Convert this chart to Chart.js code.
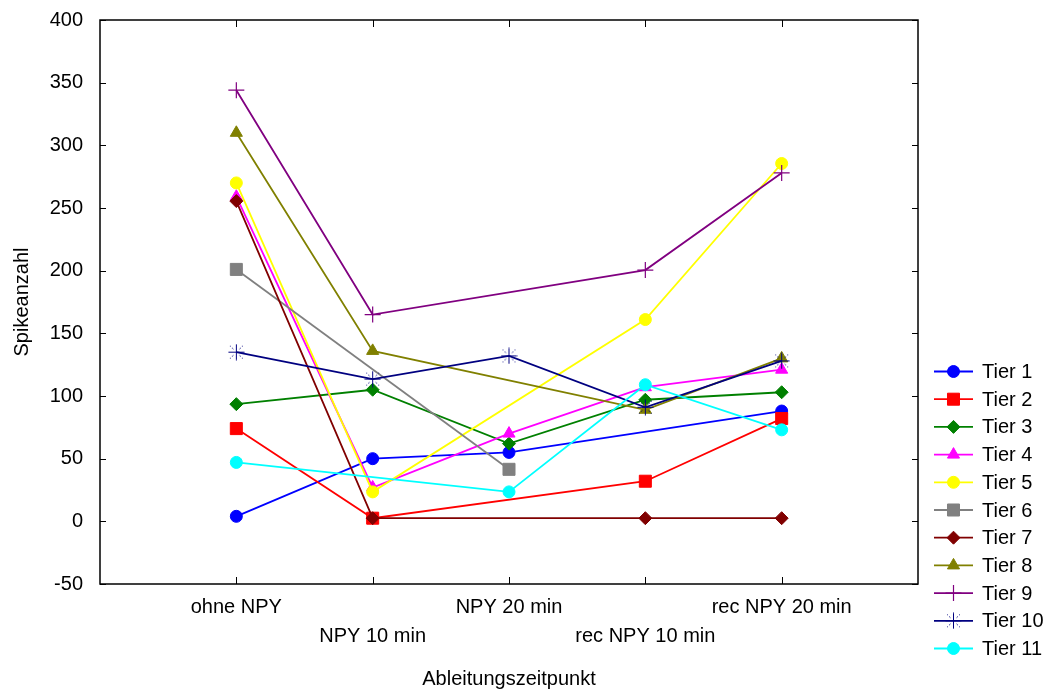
<!DOCTYPE html>
<html><head><meta charset="utf-8">
<script src="https://cdn.jsdelivr.net/npm/chart.js@4/dist/chart.umd.min.js"></script>
<style>html,body{margin:0;padding:0;background:#fff;overflow:hidden}#wrap{width:1052px;height:692px}</style>
</head><body><div id="wrap"><canvas id="c" width="1052" height="692"></canvas></div>
<script>
// ---- data ----
const categories = ['ohne NPY', 'NPY 10 min', 'NPY 20 min', 'rec NPY 10 min', 'rec NPY 20 min'];
const seriesNames = ['Tier 1','Tier 2','Tier 3','Tier 4','Tier 5','Tier 6','Tier 7','Tier 8','Tier 9','Tier 10','Tier 11'];
const tier1  = [4,     50,    55,   null,  88];
const tier2  = [74,    2.5,   null, 32,    82];
const tier3  = [93.5,  105,   62,   97,    103];
const tier4  = [259,   27,    70,   107,   121];
const tier5  = [270,   23.5,  null, 161,   285.5];
const tier6  = [201,   null,  41.5, null,  null];
const tier7  = [255.5, 2.5,   null, 2.5,   2.5];
const tier8  = [310,   136,   null, 89,    130];
const tier9  = [344,   165,   null, 200.5, 278];
const tier10 = [135,   113.5, 132,  91,    128];
const tier11 = [47,    null,  23.5, 109,   73];
const yTicks = [-50, 0, 50, 100, 150, 200, 250, 300, 350, 400];
const yTitle = 'Spikeanzahl';
const xTitle = 'Ableitungszeitpunkt';

// ---- styles ----
const allSeries = [tier1,tier2,tier3,tier4,tier5,tier6,tier7,tier8,tier9,tier10,tier11];
const colors = ['#0000FF','#FF0000','#008000','#FF00FF','#FFFF00','#808080','#800000','#808000','#800080','#000080','#00FFFF'];

function makeAsterisk(col){
  const c = document.createElement('canvas'); c.width = 17; c.height = 17;
  const g = c.getContext('2d');
  g.strokeStyle = col; g.lineWidth = 1;
  g.beginPath(); g.moveTo(8.5,0.5); g.lineTo(8.5,16.5); g.moveTo(0.5,8.5); g.lineTo(16.5,8.5); g.stroke();
  g.globalAlpha = 0.75;
  const segs = [[1,1],[1,-1],[-1,1],[-1,-1]];
  g.beginPath();
  segs.forEach(([sx,sy])=>{
    g.moveTo(8.5+sx*3, 8.5+sy*3); g.lineTo(8.5+sx*4.5, 8.5+sy*4.5);
    g.moveTo(8.5+sx*5.5, 8.5+sy*5.5); g.lineTo(8.5+sx*6.5, 8.5+sy*6.5);
  });
  g.stroke();
  return c;
}
const styles = [
  {ps:'circle', r:6}, {ps:'rect', r:8.5}, {ps:'rectRot', r:6.5}, {ps:'triangle', r:7},
  {ps:'circle', r:6}, {ps:'rect', r:8.5}, {ps:'rectRot', r:6.5}, {ps:'triangle', r:7},
  {ps:'cross', r:8, bw:1.2}, {ps:makeAsterisk('#000080'), r:8}, {ps:'circle', r:6}
];

const FONT = "'Liberation Sans', Arial, Helvetica, sans-serif";

const datasets = allSeries.map((arr,i)=>({
  label: seriesNames[i],
  data: arr.map((v,j)=>({x:j+1, y:v})),
  borderColor: colors[i],
  backgroundColor: colors[i],
  pointBackgroundColor: colors[i],
  pointBorderColor: colors[i],
  borderWidth: 1.8,
  pointBorderWidth: styles[i].bw || 1,
  pointStyle: styles[i].ps,
  pointRadius: styles[i].r,
  pointHoverRadius: styles[i].r,
  spanGaps: true,
  tension: 0,
  order: allSeries.length - i
}));

const framePlugin = {
  id: 'frame',
  beforeDatasetsDraw(chart){
    const {ctx, chartArea:a, scales} = chart;
    ctx.save();
    ctx.strokeStyle = '#000'; ctx.lineWidth = 1.5;
    ctx.strokeRect(a.left, a.top, a.right-a.left, a.bottom-a.top);
    ctx.lineWidth = 1;
    ctx.beginPath();
    scales.y.ticks.forEach(t=>{
      const y = Math.round(scales.y.getPixelForValue(t.value))+0.5;
      ctx.moveTo(a.left, y); ctx.lineTo(a.left+6, y);
      ctx.moveTo(a.right, y); ctx.lineTo(a.right-6, y);
    });
    scales.x.ticks.forEach(t=>{
      const x = Math.round(scales.x.getPixelForValue(t.value))+0.5;
      ctx.moveTo(x, a.bottom); ctx.lineTo(x, a.bottom-7);
      ctx.moveTo(x, a.top); ctx.lineTo(x, a.top+7);
    });
    ctx.stroke();
    ctx.restore();
  }
};

const legendPlugin = {
  id: 'customLegend',
  afterDraw(chart){
    const ctx = chart.ctx;
    const x0 = 934, x1 = 973, xm = 953.5, tx = 982;
    const y0 = 371.5, dy = 27.7;
    ctx.save();
    chart.data.datasets.forEach((ds,i)=>{
      const y = y0 + i*dy;
      ctx.strokeStyle = ds.borderColor; ctx.lineWidth = 1.8;
      ctx.beginPath(); ctx.moveTo(x0, y); ctx.lineTo(x1, y); ctx.stroke();
      ctx.fillStyle = ds.pointBackgroundColor; ctx.strokeStyle = ds.pointBorderColor;
      ctx.lineWidth = ds.pointBorderWidth;
      Chart.helpers.drawPoint(ctx, {pointStyle: ds.pointStyle, radius: ds.pointRadius, rotation: 0, borderWidth: ds.pointBorderWidth}, xm, y);
      ctx.fillStyle = '#000'; ctx.font = '20px ' + FONT;
      ctx.textAlign = 'left'; ctx.textBaseline = 'middle';
      ctx.fillText(ds.label, tx, y+1);
    });
    ctx.restore();
  }
};

new Chart(document.getElementById('c'), {
  type: 'line',
  data: { datasets },
  plugins: [framePlugin, legendPlugin],
  options: {
    responsive: false,
    animation: false,
    devicePixelRatio: 1,
    layout: { padding: { top: 20, right: 134, left: 0, bottom: 0 } },
    plugins: { legend: { display: false }, tooltip: { enabled: false } },
    scales: {
      x: {
        type: 'linear', min: 0, max: 6,
        afterBuildTicks: s => { s.ticks = categories.map((c,i)=>({value: i+1})); },
        afterFit: s => { s.height = 108; s.paddingLeft = 0; s.paddingRight = 0; },
        grid: { display: false, drawTicks: false },
        border: { display: false },
        ticks: {
          autoSkip: false, maxRotation: 0, minRotation: 0, padding: 9, color: '#000',
          font: { family: FONT, size: 20, lineHeight: '29px' },
          callback: (v) => { const i = Math.round(v)-1; const l = categories[i]; return i % 2 === 0 ? [l] : ['', l]; }
        },
        title: { display: true, text: xTitle, color: '#000', font: { family: FONT, size: 20, lineHeight: 1.2 }, padding: { top: 0, bottom: 1 } }
      },
      y: {
        type: 'linear', min: -50, max: 400,
        afterBuildTicks: s => { s.ticks = yTicks.map(v=>({value: v})); },
        afterFit: s => { s.width = 100; s.paddingTop = 0; s.paddingBottom = 0; },
        grid: { display: false, drawTicks: false },
        border: { display: false },
        ticks: { padding: 17, color: '#000', font: { family: FONT, size: 20 } },
        title: { display: true, text: yTitle, color: '#000', font: { family: FONT, size: 20, lineHeight: 1.2 }, padding: { top: 10, bottom: 0 } }
      }
    }
  }
});
</script></body></html>
